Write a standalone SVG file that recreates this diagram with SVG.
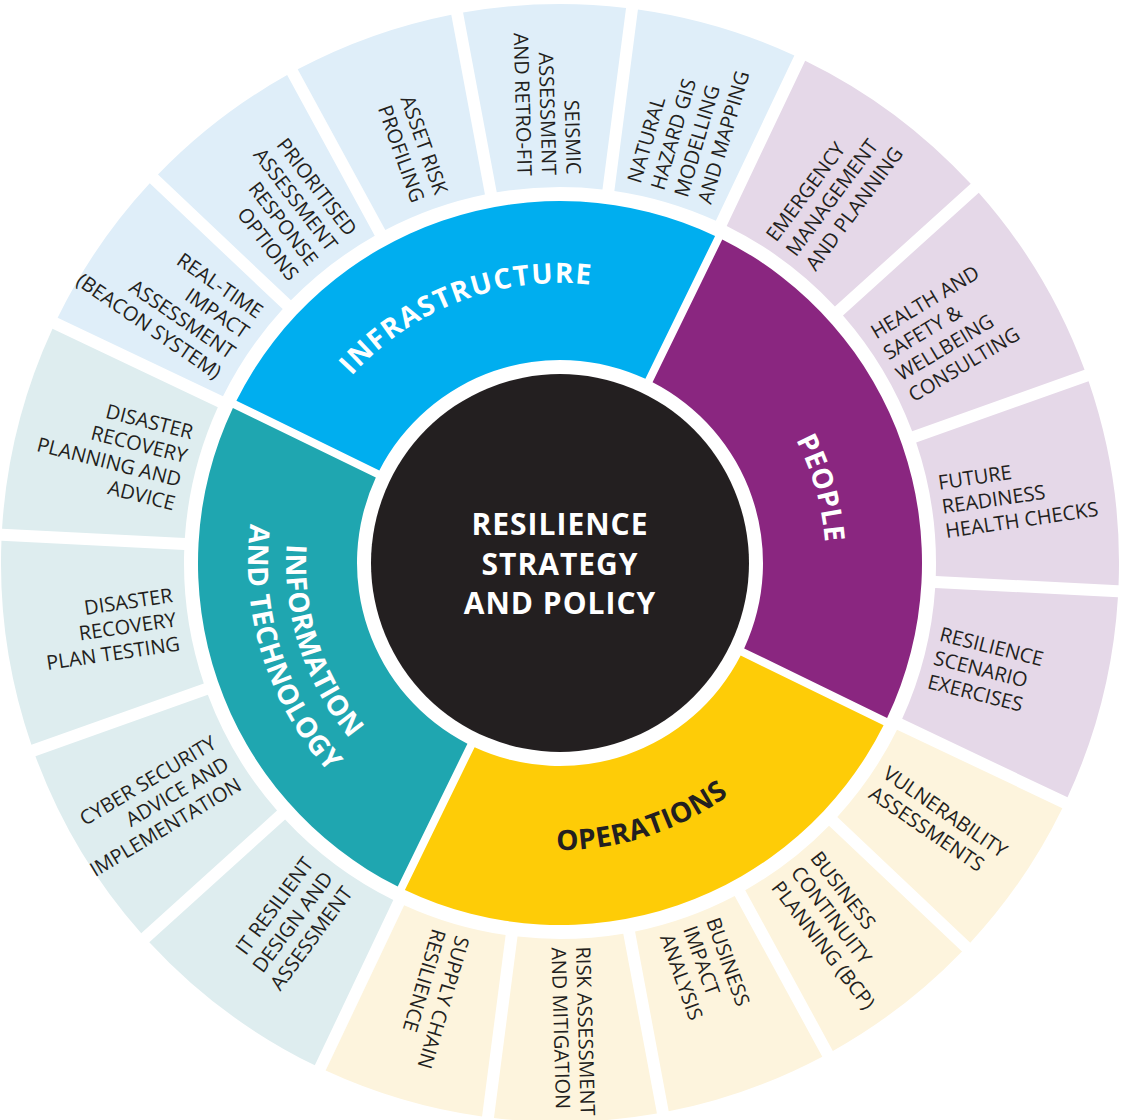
<svg xmlns="http://www.w3.org/2000/svg" width="1122" height="1120" viewBox="0 0 1122 1120">
<style>
.lt{font-family:"Open Sans","Noto Sans","DejaVu Sans",sans-serif;font-size:20px;fill:#231F20}
.in{text-anchor:end}
.out{text-anchor:start}
.mid{font-family:"Open Sans","Noto Sans","DejaVu Sans",sans-serif;font-size:28px;font-weight:700;fill:#FFFFFF;text-anchor:middle;letter-spacing:0.5px}
.ctr{font-family:"Open Sans","Noto Sans","DejaVu Sans",sans-serif;font-size:30px;font-weight:700;fill:#FFFFFF;text-anchor:middle;letter-spacing:1px}
.lb{fill:#DFEEF9}.lp{fill:#E5D8E8}.ly{fill:#FDF4DD}.lg{fill:#DEEDEF}
</style>
<defs>
<path id="sa" d="M -81.52 -553.03 A 559 559 0 0 1 81.52 -553.03 L 52.89 -372.26 A 376 376 0 0 0 -52.89 -372.26 Z"/>
<path id="sb" d="M -103.16 -549.40 A 559 559 0 0 1 103.16 -549.40 L 67.46 -369.90 A 376 376 0 0 0 -67.46 -369.90 Z"/>
<path id="sm" d="M -253.13 -258.79 A 362 362 0 0 1 253.13 -258.79 L 140.69 -146.34 A 203 203 0 0 0 -140.69 -146.34 Z"/>
<path id="pInfra" d="M 283.6 518.23 A 280 280 0 0 1 736.97 346.02"/>
<path id="pPeople" d="M 624.35 304.9 A 266 266 0 0 1 751.34 747.78"/>
<path id="pOps" d="M 366.85 775.27 A 287 287 0 0 0 840.41 624.14"/>
<path id="pInfo" d="M 356.38 379.66 A 274 274 0 0 0 503.03 831.01"/>
<path id="pTech" d="M 329.97 352.22 A 312 312 0 0 0 492.47 867.61"/>
</defs>
<rect width="1122" height="1120" fill="#FFFFFF"/>

<!-- outer ring: infrastructure services -->
<g id="realtime">
<use href="#sa" class="lb" transform="translate(560 563) rotate(304.4)"/>
<text class="lt in" transform="rotate(304.4 560 563) translate(560 175) rotate(90)"><tspan x="0" y="-29.75">REAL-TIME</tspan><tspan x="0" y="-5.25">IMPACT</tspan><tspan x="0" y="19.25">ASSESSMENT</tspan><tspan x="0" y="43.75">(BEACON SYSTEM)</tspan></text>
</g>
<g id="prioritised">
<use href="#sa" class="lb" transform="translate(560 563) rotate(322.4)"/>
<text class="lt in" transform="rotate(322.4 560 563) translate(560 175) rotate(90)"><tspan x="0" y="-29.75">PRIORITISED</tspan><tspan x="0" y="-5.25">ASSESSMENT</tspan><tspan x="0" y="19.25">RESPONSE</tspan><tspan x="0" y="43.75">OPTIONS</tspan></text>
</g>
<g id="asset">
<use href="#sa" class="lb" transform="translate(560 563) rotate(340.4)"/>
<text class="lt in" transform="rotate(340.4 560 563) translate(560 175) rotate(90)"><tspan x="0" y="-5.25">ASSET RISK</tspan><tspan x="0" y="19.25">PROFILING</tspan></text>
</g>
<g id="seismic">
<use href="#sa" class="lb" transform="translate(560 563) rotate(358.4)"/>
<text class="lt in" transform="rotate(358.4 560 563) translate(560 175) rotate(90)"><tspan x="0" y="-17.5">SEISMIC</tspan><tspan x="0" y="7">ASSESSMENT</tspan><tspan x="0" y="31.5">AND RETRO-FIT</tspan></text>
</g>
<g id="natural">
<use href="#sa" class="lb" transform="translate(560 563) rotate(16.4)"/>
<text class="lt out" transform="rotate(16.4 560 563) translate(560 177) rotate(-90)"><tspan x="0" y="-29.75">NATURAL</tspan><tspan x="0" y="-5.25">HAZARD GIS</tspan><tspan x="0" y="19.25">MODELLING</tspan><tspan x="0" y="43.75">AND MAPPING</tspan></text>
</g>

<!-- outer ring: people services -->
<g id="emergency">
<use href="#sb" class="lp" transform="translate(560 563) rotate(36.65)"/>
<text class="lt out" transform="rotate(36.65 560 563) translate(560 177) rotate(-90)"><tspan x="0" y="-17.5">EMERGENCY</tspan><tspan x="0" y="7">MANAGEMENT</tspan><tspan x="0" y="31.5">AND PLANNING</tspan></text>
</g>
<g id="health">
<use href="#sb" class="lp" transform="translate(560 563) rotate(59.15)"/>
<text class="lt out" transform="rotate(59.15 560 563) translate(560 177) rotate(-90)"><tspan x="0" y="-29.75">HEALTH AND</tspan><tspan x="0" y="-5.25">SAFETY &amp;</tspan><tspan x="0" y="19.25">WELLBEING</tspan><tspan x="0" y="43.75">CONSULTING</tspan></text>
</g>
<g id="future">
<use href="#sb" class="lp" transform="translate(560 563) rotate(81.65)"/>
<text class="lt out" transform="rotate(81.65 560 563) translate(560 177) rotate(-90)"><tspan x="0" y="-17.5">FUTURE</tspan><tspan x="0" y="7">READINESS</tspan><tspan x="0" y="31.5">HEALTH CHECKS</tspan></text>
</g>
<g id="scenario">
<use href="#sb" class="lp" transform="translate(560 563) rotate(104.15)"/>
<text class="lt out" transform="rotate(104.15 560 563) translate(560 177) rotate(-90)"><tspan x="0" y="-17.5">RESILIENCE</tspan><tspan x="0" y="7">SCENARIO</tspan><tspan x="0" y="31.5">EXERCISES</tspan></text>
</g>

<!-- outer ring: operations services -->
<g id="vulnerability">
<use href="#sa" class="ly" transform="translate(560 563) rotate(124.4)"/>
<text class="lt out" transform="rotate(124.4 560 563) translate(560 177) rotate(-90)"><tspan x="0" y="-5.25">VULNERABILITY</tspan><tspan x="0" y="19.25">ASSESSMENTS</tspan></text>
</g>
<g id="bcp">
<use href="#sa" class="ly" transform="translate(560 563) rotate(142.4)"/>
<text class="lt out" transform="rotate(142.4 560 563) translate(560 177) rotate(-90)"><tspan x="0" y="-17.5">BUSINESS</tspan><tspan x="0" y="7">CONTINUITY</tspan><tspan x="0" y="31.5">PLANNING (BCP)</tspan></text>
</g>
<g id="impact">
<use href="#sa" class="ly" transform="translate(560 563) rotate(160.4)"/>
<text class="lt out" transform="rotate(160.4 560 563) translate(560 177) rotate(-90)"><tspan x="0" y="-17.5">BUSINESS</tspan><tspan x="0" y="7">IMPACT</tspan><tspan x="0" y="31.5">ANALYSIS</tspan></text>
</g>
<g id="risk">
<use href="#sa" class="ly" transform="translate(560 563) rotate(178.4)"/>
<text class="lt out" transform="rotate(178.4 560 563) translate(560 179) rotate(-90)"><tspan x="0" y="-5.25">RISK ASSESSMENT</tspan><tspan x="0" y="19.25">AND MITIGATION</tspan></text>
</g>
<g id="supply">
<use href="#sa" class="ly" transform="translate(560 563) rotate(196.4)"/>
<text class="lt out" transform="rotate(196.4 560 563) translate(560 177) rotate(-90)"><tspan x="0" y="-5.25">SUPPLY CHAIN</tspan><tspan x="0" y="19.25">RESILIENCE</tspan></text>
</g>

<!-- outer ring: information and technology services -->
<g id="itresilient">
<use href="#sb" class="lg" transform="translate(560 563) rotate(216.65)"/>
<text class="lt in" transform="rotate(216.65 560 563) translate(560 175) rotate(90)"><tspan x="0" y="-17.5">IT RESILIENT</tspan><tspan x="0" y="7">DESIGN AND</tspan><tspan x="0" y="31.5">ASSESSMENT</tspan></text>
</g>
<g id="cyber">
<use href="#sb" class="lg" transform="translate(560 563) rotate(239.15)"/>
<text class="lt in" transform="rotate(239.15 560 563) translate(560 175) rotate(90)"><tspan x="0" y="-17.5">CYBER SECURITY</tspan><tspan x="0" y="7">ADVICE AND</tspan><tspan x="0" y="31.5">IMPLEMENTATION</tspan></text>
</g>
<g id="drtesting">
<use href="#sb" class="lg" transform="translate(560 563) rotate(261.65)"/>
<text class="lt in" transform="rotate(261.65 560 563) translate(560 175) rotate(90)"><tspan x="0" y="-17.5">DISASTER</tspan><tspan x="0" y="7">RECOVERY</tspan><tspan x="0" y="31.5">PLAN TESTING</tspan></text>
</g>
<g id="drplanning">
<use href="#sb" class="lg" transform="translate(560 563) rotate(284.15)"/>
<text class="lt in" transform="rotate(284.15 560 563) translate(560 175) rotate(90)"><tspan x="0" y="-29.75">DISASTER</tspan><tspan x="0" y="-5.25">RECOVERY</tspan><tspan x="0" y="19.25">PLANNING AND</tspan><tspan x="0" y="43.75">ADVICE</tspan></text>
</g>

<!-- middle ring -->
<g id="infrastructure">
<use href="#sm" fill="#00AEEF" transform="translate(560 563) rotate(341)"/>
<text class="mid" style="letter-spacing:1.5px"><textPath href="#pInfra" startOffset="50%">INFRASTRUCTURE</textPath></text>
</g>
<g id="people">
<use href="#sm" fill="#8A2680" transform="translate(560 563) rotate(71)"/>
<text class="mid"><textPath href="#pPeople" startOffset="50%">PEOPLE</textPath></text>
</g>
<g id="operations">
<use href="#sm" fill="#FECC07" transform="translate(560 563) rotate(161)"/>
<text class="mid" style="fill:#231F20"><textPath href="#pOps" startOffset="50%">OPERATIONS</textPath></text>
</g>
<g id="infotech">
<use href="#sm" fill="#1FA6B0" transform="translate(560 563) rotate(251)"/>
<text class="mid"><textPath href="#pInfo" startOffset="50%">INFORMATION</textPath></text>
<text class="mid"><textPath href="#pTech" startOffset="50%">AND TECHNOLOGY</textPath></text>
</g>

<!-- centre -->
<g id="centre">
<circle cx="560" cy="563" r="189" fill="#231F20"/>
<text class="ctr"><tspan x="560" y="535">RESILIENCE</tspan><tspan x="560" y="574.5">STRATEGY</tspan><tspan x="560" y="614">AND POLICY</tspan></text>
</g>
<g id="connectors"/>
</svg>
